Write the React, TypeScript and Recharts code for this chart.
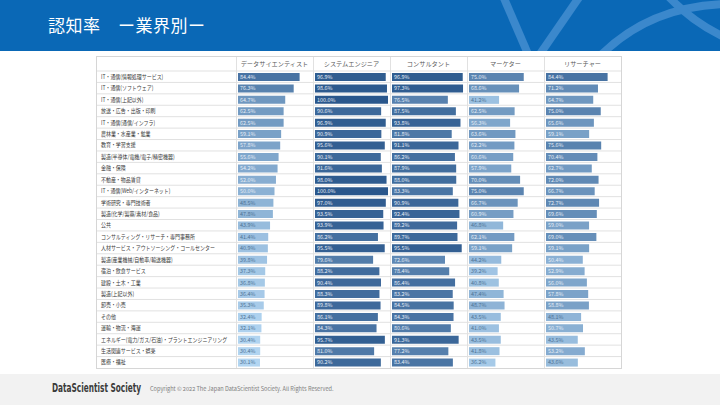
import React from "react";
import { BarChart, Bar, XAxis, YAxis, CartesianGrid, Cell, LabelList } from "recharts";

const industries = [
  "IT・通信(情報処理サービス)",
  "IT・通信(ソフトウェア)",
  "IT・通信(上記以外)",
  "放送・広告・出版・印刷",
  "IT・通信(通信/インフラ)",
  "農林業・水産業・鉱業",
  "教育・学習支援",
  "製造(半導体/電機/電子/精密機器)",
  "金融・保険",
  "不動産・物品賃貸",
  "IT・通信(Web/インターネット)",
  "学術研究・専門技術者",
  "製造(化学/製薬/素材/食品)",
  "公共",
  "コンサルティング・リサーチ・専門事務所",
  "人材サービス・アウトソーシング・コールセンター",
  "製造(産業機械/自動車/輸送機器)",
  "宿泊・飲食サービス",
  "建設・土木・工業",
  "製造(上記以外)",
  "卸売・小売",
  "その他",
  "運輸・物流・海運",
  "エネルギー(電力/ガス/石油)・プラントエンジニアリング",
  "生活関連サービス・娯楽",
  "医療・福祉",
];

const roles = ["データサイエンティスト", "システムエンジニア", "コンサルタント", "マーケター", "リサーチャー"];

const dataScientist = [84.4, 76.3, 64.7, 62.5, 62.5, 59.1, 57.8, 55.6, 54.2, 52.0, 50.0, 48.5, 47.8, 43.9, 41.4, 40.9, 39.8, 37.3, 36.8, 36.4, 35.3, 32.4, 32.1, 30.4, 30.4, 30.1];
const systemEngineer = [96.9, 98.6, 100.0, 90.6, 96.9, 90.9, 95.6, 90.1, 91.6, 98.0, 100.0, 97.0, 93.5, 93.9, 86.2, 95.5, 79.6, 88.2, 90.4, 88.3, 89.8, 86.1, 84.3, 95.7, 81.0, 90.2];
const consultant = [96.9, 97.3, 76.5, 87.5, 93.8, 81.8, 91.1, 86.2, 87.9, 88.0, 83.3, 90.9, 92.4, 89.2, 89.7, 95.5, 72.6, 78.4, 86.4, 83.2, 84.5, 84.3, 80.6, 91.3, 77.2, 83.4];
const marketer = [75.0, 68.6, 41.2, 62.5, 56.3, 63.6, 62.2, 60.6, 57.9, 70.0, 75.0, 66.7, 60.9, 46.8, 62.1, 59.1, 44.2, 39.2, 40.8, 47.4, 48.7, 43.5, 41.0, 43.5, 41.8, 36.2];
const researcher = [84.4, 71.2, 64.7, 75.0, 65.6, 59.1, 75.6, 70.4, 62.7, 72.0, 66.7, 72.7, 69.6, 59.0, 69.0, 59.1, 50.4, 52.9, 56.0, 57.8, 58.8, 48.1, 50.7, 43.5, 53.2, 43.6];

const rows = industries.map((name, i) => ({
  name,
  ds: dataScientist[i],
  se: systemEngineer[i],
  co: consultant[i],
  mk: marketer[i],
  rs: researcher[i],
}));
const keys = ["ds", "se", "co", "mk", "rs"];

const FONT = '"Noto Sans CJK JP", "Noto Sans", sans-serif';
const headH = 14;
const rowH = 297 / 26;
const colW = 77;
const labelW = 139;
const chartH = headH + rowH * industries.length;
const rowLines = [headH, ...industries.slice(1).map((_, i) => headH + rowH * (i + 1))];

const shade = (v: number) => {
  const lo = [178, 213, 241];
  const hi = [42, 87, 140];
  const t = Math.min(1, Math.max(0, (v - 30) / 70));
  const c = lo.map((l, i) => Math.round(l + (hi[i] - l) * t));
  return `rgb(${c[0]},${c[1]},${c[2]})`;
};

const renderValue = (props: any) => {
  const { x, y, height, value } = props;
  return (
    <text x={x + 2} y={y + height / 2} dy="0.35em" fontSize={5.4} fontFamily={FONT}
      fill={value < 50 ? "#4f7396" : "#e4edf6"}>
      {Number(value).toFixed(1)}%
    </text>
  );
};

// labels in the reference are set in a narrow face, so squeeze them a bit
const IndustryTick = (props: any) => {
  const { y, payload } = props;
  return (
    <text transform={`translate(4 ${y}) scale(0.8 1)`} x={0} y={0} dy="0.35em"
      fontSize={6.2} fontFamily={FONT} fill="#404040">
      {payload.value}
    </text>
  );
};

const Column = ({ k, title, withLabels }: any) => {
  const w = withLabels ? labelW + colW : colW;
  return (
    <BarChart width={w} height={chartH} data={rows} layout="vertical" barSize={8}
      margin={{ top: 0, right: 2, left: withLabels ? 0 : 2, bottom: 0 }}>
      <CartesianGrid x={0} y={0} width={w} height={chartH} stroke="#e1e1e1"
        horizontalPoints={rowLines} verticalPoints={[withLabels ? labelW + 0.5 : 0.5]} />
      <XAxis type="number" orientation="top" domain={[0, 100]} height={headH}
        tick={false} axisLine={false} tickLine={false}
        label={{ value: title, position: "center", fontSize: 6.2, fill: "#595959", fontFamily: FONT }} />
      {withLabels ? (
        <YAxis type="category" dataKey="name" width={labelW + 2} interval={0}
          axisLine={false} tickLine={false} tick={<IndustryTick />} />
      ) : (
        <YAxis type="category" dataKey="name" hide />
      )}
      <Bar dataKey={k} isAnimationActive={false}>
        {rows.map((r: any, i) => (
          <Cell key={i} fill={shade(r[k])} />
        ))}
        <LabelList dataKey={k} content={renderValue} />
      </Bar>
    </BarChart>
  );
};

export default function App() {
  return (
    <div style={{ position: "absolute", left: 0, top: 0, width: 720, height: 405, background: "#fff", overflow: "hidden", fontFamily: FONT }}>
      <div style={{ position: "absolute", left: 0, top: 0, width: 720, height: 51, background: "#0a68b6" }}>
        <svg width={720} height={51} style={{ position: "absolute", left: 0, top: 0 }}>
          <g fill="none" stroke="#3b88cc" strokeWidth={8}>
            <path d="M 503 -4 L 528 54" />
            <path d="M 540 54 L 580 -4" />
            <path d="M 600 56 Q 650 6 726 4" />
            <path d="M 668 -4 Q 692 22 726 38" />
          </g>
        </svg>
        <div style={{ position: "absolute", left: 48, top: 12, color: "#fff", fontSize: 17, letterSpacing: 0.5 }}>
          認知率　ー業界別ー
        </div>
      </div>
      <div style={{ position: "absolute", left: 96, top: 56, border: "1px solid #d6d6d6", display: "flex", background: "#fff" }}>
        {keys.map((k, i) => (
          <Column key={k} k={k} title={roles[i]} withLabels={i === 0} />
        ))}
      </div>
      <div style={{ position: "absolute", left: 0, top: 374, width: 720, height: 31, background: "#f2f2f2" }}>
        <div style={{ position: "absolute", left: 52, top: 7, fontSize: 11.5, fontWeight: "bold", color: "#3a3a3a",
          fontFamily: '"DejaVu Sans", sans-serif', transform: "scaleX(0.64)", transformOrigin: "left center", whiteSpace: "nowrap" }}>
          DataScientist Society
        </div>
        <div style={{ position: "absolute", left: 150, top: 11, fontSize: 5.6, color: "#808080", whiteSpace: "nowrap" }}>
          Copyright © 2022 The Japan DataScientist Society. All Rights Reserved.
        </div>
      </div>
    </div>
  );
}
